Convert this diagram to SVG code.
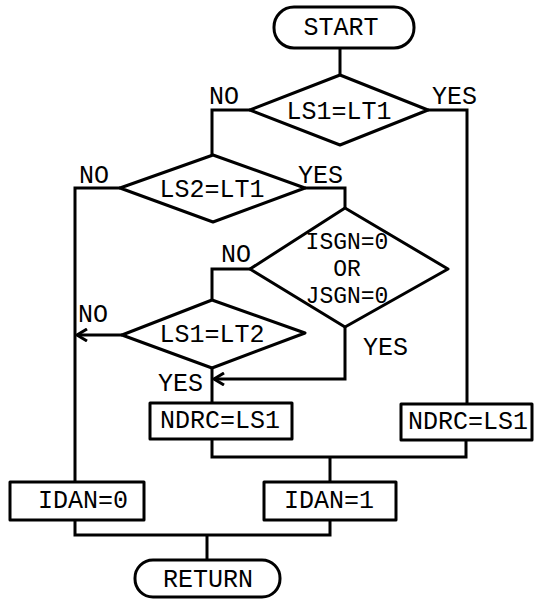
<svg xmlns="http://www.w3.org/2000/svg" width="534" height="600" viewBox="0 0 534 600">
<style>
.s{fill:#fff;stroke:#000;stroke-width:3;stroke-linejoin:round}
.c{fill:none;stroke:#000;stroke-width:3;stroke-linejoin:miter}
text{font-family:"Liberation Mono","Courier New",monospace;font-size:25px;fill:#000}
.m{text-anchor:middle}
.sm{font-size:23px}
</style>
<defs>
<marker id="ah" markerWidth="14" markerHeight="14" refX="11" refY="7" orient="auto" markerUnits="userSpaceOnUse">
<path d="M1,1 L11,7 L1,13" fill="none" stroke="#000" stroke-width="3"/>
</marker>
</defs>
<rect width="534" height="600" fill="#fff"/>
<g id="connectors">
<path class="c" d="M340,48 V75"/>
<path class="c" d="M428,110 H467 V404"/>
<path class="c" d="M250,110 H212 V155"/>
<path class="c" d="M120,188 H75 V482"/>
<path class="c" d="M305,188 H345 V208"/>
<path class="c" d="M250,269 H212 V300"/>
<path class="c" d="M345,327 V379 H214" marker-end="url(#ah)"/>
<path class="c" d="M122,335 H77" marker-end="url(#ah)"/>
<path class="c" d="M212,368 V403"/>
<path class="c" d="M212,439 V457 H466 V440"/>
<path class="c" d="M330,457 V482"/>
<path class="c" d="M75,520 V535 H330 V520"/>
<path class="c" d="M207,535 V560"/>
<text x="432" y="104">YES</text>
<text x="209" y="104">NO</text>
<text x="79" y="183">NO</text>
<text x="298" y="183">YES</text>
<text x="221" y="262">NO</text>
<text x="363" y="355">YES</text>
<text x="78" y="322">NO</text>
<text x="158" y="391">YES</text>
</g>
<g id="start">
<rect class="s" x="274" y="7" width="140" height="41" rx="20"/>
<text class="m" x="341" y="35">START</text>
</g>
<g id="d1">
<polygon class="s" points="340,75 428,110 340,145 250,110"/>
<text class="m" x="339" y="119">LS1=LT1</text>
</g>
<g id="d2">
<polygon class="s" points="213,155 305,188 213,222 120,188"/>
<text class="m" x="212" y="197">LS2=LT1</text>
</g>
<g id="d3">
<polygon class="s" points="345,208 448,269 345,327 250,269"/>
<text class="m sm" x="347" y="249">ISGN=0</text>
<text class="m sm" x="347" y="276">OR</text>
<text class="m sm" x="347" y="303">JSGN=0</text>
</g>
<g id="d4">
<polygon class="s" points="212,300 305,333 212,368 122,335"/>
<text class="m" x="212" y="342">LS1=LT2</text>
</g>
<g id="ndrc1">
<rect class="s" x="150" y="403" width="142" height="36"/>
<text class="m" x="220" y="428">NDRC=LS1</text>
</g>
<g id="ndrc2">
<rect class="s" x="401" y="404" width="131" height="36"/>
<text class="m" x="468" y="429">NDRC=LS1</text>
</g>
<g id="idan0">
<rect class="s" x="10" y="482" width="134" height="38"/>
<text class="m" x="83" y="508">IDAN=0</text>
</g>
<g id="idan1">
<rect class="s" x="264" y="482" width="132" height="38"/>
<text class="m" x="329" y="508">IDAN=1</text>
</g>
<g id="return">
<rect class="s" x="135" y="560" width="145" height="37" rx="18"/>
<text class="m" x="208" y="587">RETURN</text>
</g>
</svg>
